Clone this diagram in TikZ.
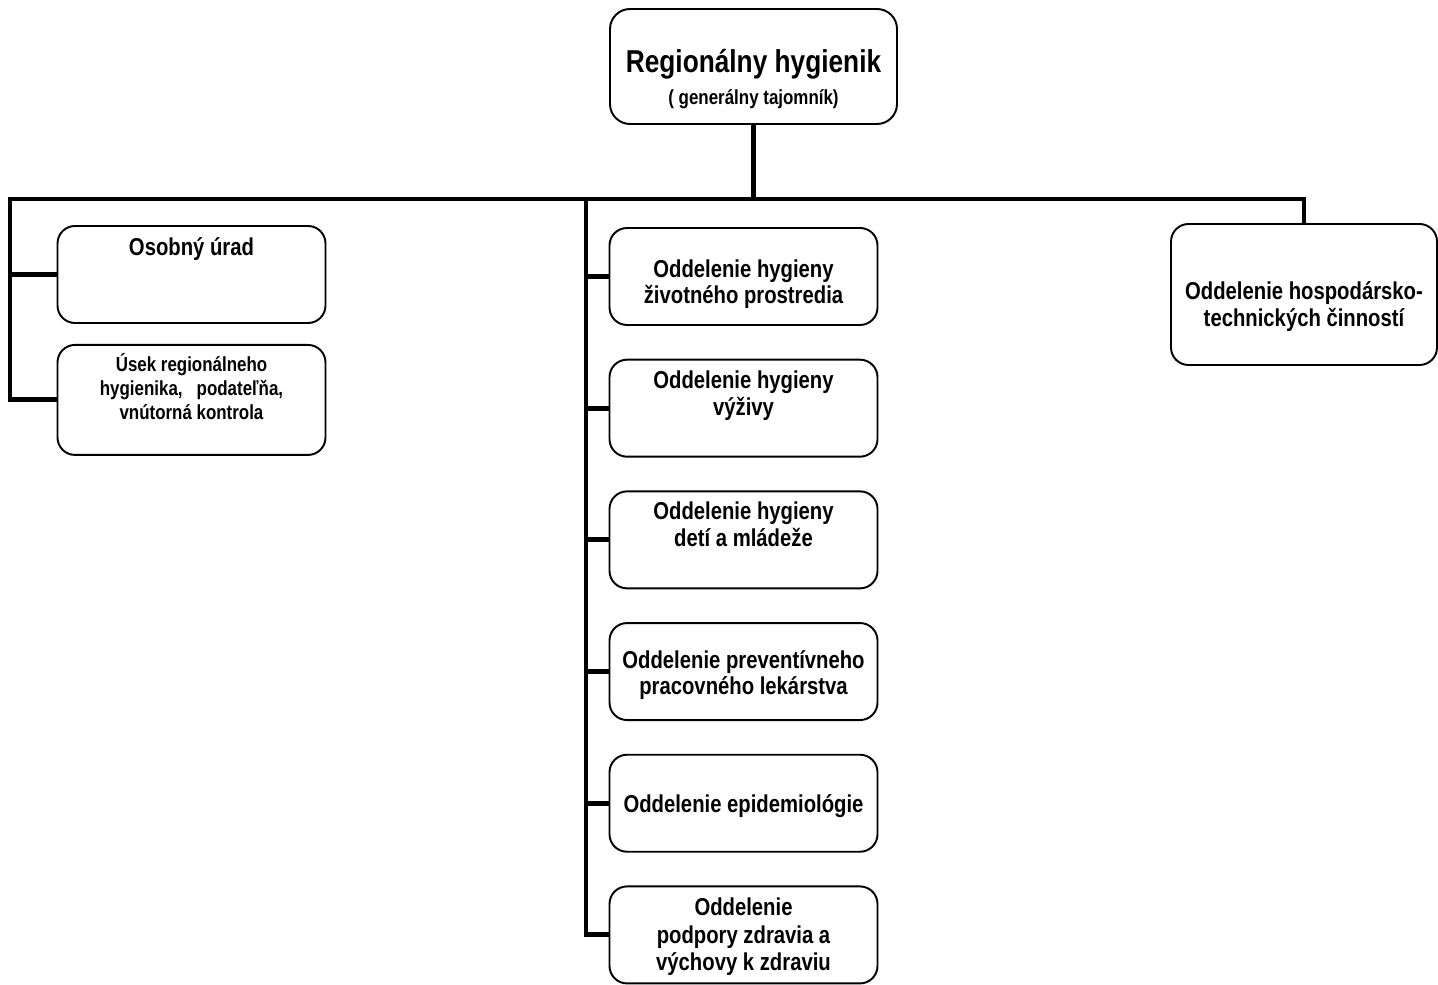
\documentclass[tikz,border=0pt]{standalone}
\usepackage{fontspec}
\setmainfont{Liberation Sans}[FakeStretch=0.83]
\usetikzlibrary{positioning}
\newcommand{\vpad}[1]{\rule{0pt}{#1}}

\begin{document}
\begin{tikzpicture}[
    node distance=0.655cm,
    unit/.style={draw, line width=1.1pt, rounded corners=0.35cm, minimum width=5.36cm, minimum height=1.94cm, align=center, font=\fontsize{13.9}{15.3}\selectfont\bfseries},
    chief/.style={unit, rounded corners=0.4cm, minimum width=5.74cm, minimum height=2.3cm, font=\fontsize{18}{18.1}\selectfont\bfseries},
    small/.style={unit, minimum height=2.2cm, font=\fontsize{11.6}{13.6}\selectfont\bfseries},
    bus/.style={line width=2.8pt}
]
\useasboundingbox (0,0) rectangle (28.76,-19.7);

% Top
\node[chief] (head) at (15.07,-1.33) {\vpad{27.9pt}Regionálny hygienik\\{\fontsize{11.6}{18.1}\selectfont ( generálny tajomník)}};

% Left column
\node[unit, text height=0.42cm, text depth=1.19cm] (osob) at (3.83,-5.49) {Osobný úrad};
\node[small, below=0.4cm of osob] (usek) {Úsek regionálneho\\hygienika,~~ podateľňa,\\vnútorná kontrola\\[1.6pt]~};

% Middle column
\node[unit] (zivot) at (14.87,-5.53) {\vpad{18.8pt}Oddelenie hygieny\\životného prostredia};
\node[unit, below=of zivot] (vyziva) {Oddelenie hygieny\\výživy\\[2.1pt]~};
\node[unit, below=of vyziva] (deti) {Oddelenie hygieny\\detí a mládeže\\[2.1pt]~};
\node[unit, below=of deti] (lekar) {\vpad{14.2pt}Oddelenie preventívneho\\pracovného lekárstva};
\node[unit, below=of lekar] (epid) {\vpad{13.7pt}Oddelenie epidemiológie};
\node[unit, below=of epid, font=\fontsize{13.9}{15.6}\selectfont\bfseries] (podpora) {\vpad{12.5pt}Oddelenie\\podpory zdravia a\\výchovy k zdraviu};

% Right
\node[unit, minimum width=5.32cm, minimum height=2.82cm] (tech) at (26.08,-5.89) {\vpad{24.4pt}Oddelenie hospodársko-\\technických činností};

% Lines
\coordinate (busL) at (0.2,-3.98);
\coordinate (busM) at (11.72,-3.98);
\draw[bus] (head.south) -- (head.south |- busL);
\draw[bus] (tech.north) |- (busL) |- (usek.west);
\draw[bus] (busL |- osob.west) -- (osob.west);
\draw[bus] (busM) |- (podpora.west);
\foreach \n in {zivot,vyziva,deti,lekar,epid}
    \draw[bus] (busM |- \n.west) -- (\n.west);

\end{tikzpicture}
\end{document}
